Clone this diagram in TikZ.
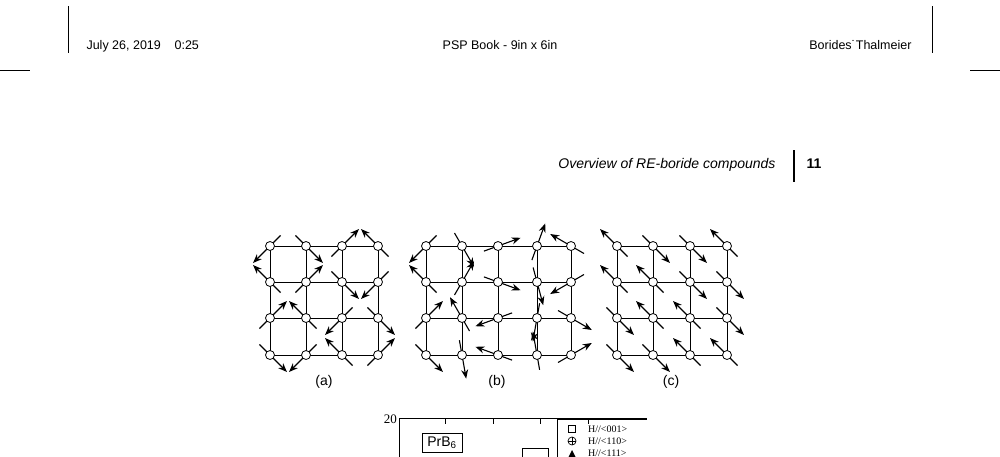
\documentclass[tikz,border=0pt]{standalone}
\usepackage{fontspec}
\setmainfont{Liberation Sans}
\newfontfamily\serifx{Liberation Serif}
\usetikzlibrary{arrows.meta,calc}
\begin{document}
\begin{tikzpicture}[x=1pt,y=-1pt,
  spin/.style={line width=1.1pt,-{Stealth[length=9pt,width=7pt]}},
  site/.style={circle,draw,fill=white,inner sep=0pt,minimum size=9pt,line width=0.8pt},
  grid/.style={line width=1pt},
  rule/.style={line width=0.6pt}]
\useasboundingbox (0,0) rectangle (1000,456);
% header
\draw[rule] (68,6) -- (68,53);
\draw[rule] (932,6) -- (932,53);
\draw[rule] (0,70) -- (30,70);
\draw[rule] (970,70) -- (1000,70);
\node[anchor=base west,font=\fontsize{12.5}{14}\selectfont] (hl) at (83,49) {July 26, 2019\hspace{1.1em}0:25};
\node[anchor=base,font=\fontsize{12.5}{14}\selectfont] (hc) at (500,49) {PSP Book - 9in x 6in};
\node[anchor=base east,font=\fontsize{12.5}{14}\selectfont] (hr) at (915,49) {Borides˙Thalmeier};
\node[anchor=base east,font=\fontsize{14}{16}\selectfont\itshape] (sec) at (779,168) {Overview of RE-boride compounds};
\draw[line width=1.3pt] (794,150) -- (794,182);
\node[anchor=base west,font=\fontsize{14}{16}\selectfont\bfseries] (pg) at (803,168) {11};
% grids
\foreach \yy in {246,282,318,355} {
  \draw[grid] (270,\yy) -- (378,\yy);
  \draw[grid] (426,\yy) -- (571,\yy);
  \draw[grid] (617,\yy) -- (727,\yy);}
\foreach \xx in {270,306,342,378,426,462,498,537,571,617,653,690,727}
  \draw[grid] (\xx,246) -- (\xx,355);
% spins
\foreach \x/\y/\a in {
 270/246/225,306/246/315,342/246/45,378/246/135,
 270/282/135,306/282/45,342/282/315,378/282/225,
 270/318/45,306/318/135,342/318/225,378/318/315,
 270/355/315,306/355/225,342/355/135,378/355/45,
 426/246/225,462/246/300,498/246/20,537/246/70,571/246/150,
 426/282/135,462/282/60,498/282/340,537/282/285,571/282/210,
 426/318/45,462/318/120,498/318/200,537/318/260,571/318/330,
 426/355/315,462/355/280,498/355/160,537/355/100,571/355/30,
 617/246/135,653/246/315,690/246/315,727/246/135,
 617/282/135,653/282/135,690/282/315,727/282/315,
 617/318/315,653/318/135,690/318/135,727/318/315,
 617/355/315,653/355/315,690/355/135,727/355/135}
{
  \draw[spin] ($(\x,\y)+(180-\a:15)$) -- ($(\x,\y)+(-\a:24)$);
}
\foreach \x/\y [count=\i] in {
 270/246,306/246,342/246,378/246,270/282,306/282,342/282,378/282,
 270/318,306/318,342/318,378/318,270/355,306/355,342/355,378/355,
 426/246,462/246,498/246,537/246,571/246,426/282,462/282,498/282,537/282,571/282,
 426/318,462/318,498/318,537/318,571/318,426/355,462/355,498/355,537/355,571/355,
 617/246,653/246,690/246,727/246,617/282,653/282,690/282,727/282,
 617/318,653/318,690/318,727/318,617/355,653/355,690/355,727/355}
  \node[site] (s\i) at (\x,\y) {};
\node[font=\fontsize{14}{16}\selectfont] (la) at (324,382) {(a)};
\node[font=\fontsize{14}{16}\selectfont] (lb) at (497,382) {(b)};
\node[font=\fontsize{14}{16}\selectfont] (lc) at (671,382) {(c)};
% plot
\begin{scope}
\clip (0,0) rectangle (1000,456);
\draw[line width=0.8pt] (399,470) -- (399,418) -- (647,418);
\draw[line width=0.8pt] (399,418) -- (405,418);
\foreach \xx in {445,493,540,588} \draw[line width=0.8pt] (\xx,418) -- (\xx,424);
\node[anchor=east,font=\serifx\fontsize{13}{15}\selectfont,inner sep=1pt] (y20) at (398,419) {20};
\draw[line width=0.7pt] (557,470) -- (557,419) -- (647,419);
\node[font=\serifx\fontsize{10}{12}\selectfont,anchor=west,inner sep=0pt] (l1) at (588,429) {H//<001>};
\node[font=\serifx\fontsize{10}{12}\selectfont,anchor=west,inner sep=0pt] (l2) at (588,441) {H//<110>};
\node[font=\serifx\fontsize{10}{12}\selectfont,anchor=west,inner sep=0pt] (l3) at (588,453) {H//<111>};
\node[draw,minimum size=7pt,inner sep=0pt,line width=0.8pt] (m1) at (572,429) {};
\node[draw,circle,minimum size=8pt,inner sep=0pt,line width=0.7pt] (m2) at (572,441) {};
\draw[line width=0.6pt] (568,441) -- (576,441) (572,437) -- (572,445);
\fill (568.5,457) -- (575.5,457) -- (572,450) -- cycle;
\node[draw,line width=0.9pt,minimum width=40pt,minimum height=19pt,font=\fontsize{14}{16}\selectfont] (prb) at (442,442.5) {PrB\textsubscript{6}};
\draw[line width=0.9pt] (522,470) -- (522,448) -- (548,448) -- (548,470);
\end{scope}
\end{tikzpicture}
\end{document}
